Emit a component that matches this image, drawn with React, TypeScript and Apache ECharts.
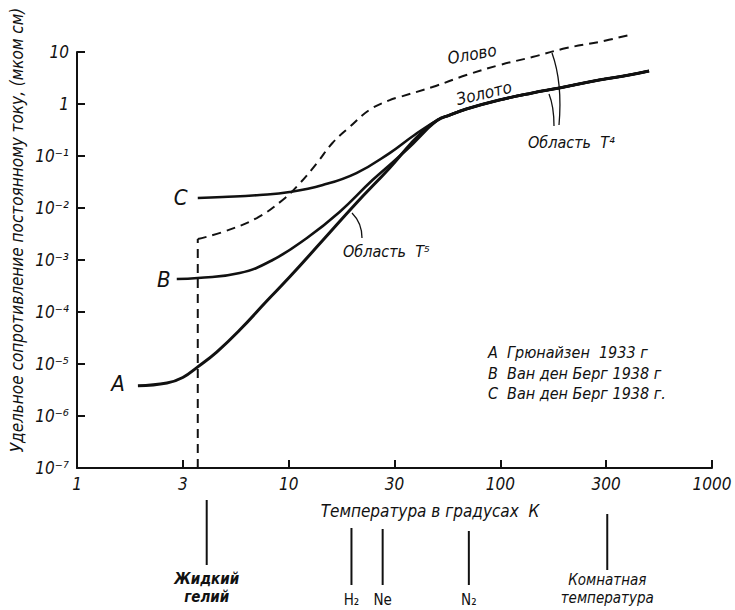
import React, { useEffect, useRef } from 'react';
import * as echarts from 'echarts';

// Tick labels
const xTickLabels = ['1', '3', '10', '30', '100', '300', '1000'];
const yTickLabels = ['10⁻⁷', '10⁻⁶', '10⁻⁵', '10⁻⁴', '10⁻³', '10⁻²', '10⁻¹', '1', '10'];

// Gold (common high-temperature part)
const goldTail: [number, number][] = [
  [50.5, 0.49], [57.5, 0.61], [69.1, 0.8], [98.9, 1.19], [141.6, 1.63],
  [190, 2.03], [293, 2.89], [406, 3.6], [504, 4.3],
];
// Sample A (Грюнайзен 1933)
const curveA: [number, number][] = [
  [1.94, 3.8e-6], [2.66, 4.3e-6], [3.16, 5.5e-6], [3.72, 8.8e-6], [4.57, 1.7e-5],
  [5.87, 4.5e-5], [7.88, 1.63e-4], [10.1, 4.7e-4], [14.5, 2.4e-3], [20.9, 1.25e-2],
  [30, 5.9e-2], [38, 0.178], [43.8, 0.316],
];
// Sample B (Ван ден Берг 1938)
const curveB: [number, number][] = [
  [2.96, 4.3e-4], [3.72, 4.5e-4], [5.87, 5.6e-4], [8.4, 1.0e-3], [12.2, 2.65e-3],
  [17.4, 8.4e-3], [24.9, 3.45e-2], [36, 0.13],
];
// Sample C (Ван ден Берг 1938)
const curveC: [number, number][] = [
  [3.72, 1.56e-2], [4.88, 1.63e-2], [7.3, 1.78e-2], [10.1, 2.03e-2], [14.5, 2.77e-2],
  [20.9, 4.7e-2], [30, 0.114], [39.3, 0.254],
];
// Tin (Олово): superconducting drop and normal-state curve
const tinDrop: [number, number][] = [[3.72, 1e-7], [3.72, 2.53e-3]];
const tinCurve: [number, number][] = [
  [3.72, 2.53e-3], [4.88, 3.45e-3], [7.07, 6.4e-3], [9.37, 1.43e-2], [11.3, 3.0e-2],
  [13.6, 7.3e-2], [16.1, 0.178], [19.4, 0.36], [24.1, 0.77], [30, 1.19], [33.4, 1.36],
  [47.8, 2.12], [69.1, 3.6], [98.9, 5.6], [141.6, 8.0], [205, 11.9], [293, 15.6], [406, 21.2],
];
// Reference temperatures under the axis
const markerNames = ['He', 'H₂', 'Ne', 'N₂', 'room'];
const markerTemps = [4.1, 19.8, 27.8, 71, 320];

const FONT = "'Liberation Sans Narrow', 'DejaVu Sans Condensed', 'Liberation Sans', sans-serif";
const INK = '#111';

export default function App() {
  const ref = useRef<HTMLDivElement>(null);
  useEffect(() => {
    if (!ref.current) return;
    const chart = echarts.init(ref.current, undefined, { renderer: 'svg' });
    const solid = (name: string, data: [number, number][], w: number) => ({
      name, type: 'line', data, smooth: 0.45, showSymbol: false, symbol: 'none',
      clip: false, lineStyle: { color: INK, width: w }, z: 3,
    });
    chart.setOption({
      animation: false,
      grid: { left: 77, right: 23, top: 52, bottom: 142, containLabel: false, outerBoundsMode: 'none' },
      xAxis: {
        type: 'log', logBase: Math.sqrt(10), min: 1, max: 1000,
        axisLine: { lineStyle: { color: INK, width: 2 } },
        axisTick: { inside: true, length: 8, lineStyle: { color: INK, width: 2 } },
        axisLabel: {
          margin: 7, color: INK, fontSize: 17, fontStyle: 'italic', fontFamily: FONT,
          formatter: (v: number) => xTickLabels[Math.round(Math.log10(v) * 2)] ?? '',
        },
        splitLine: { show: false }, minorTick: { show: false },
      },
      yAxis: {
        type: 'log', min: 1e-7, max: 10,
        axisLine: { lineStyle: { color: INK, width: 2 } },
        axisTick: { inside: true, length: 8, lineStyle: { color: INK, width: 2 } },
        axisLabel: {
          margin: 8, color: INK, fontSize: 17, fontStyle: 'italic', fontFamily: FONT,
          formatter: (v: number) => yTickLabels[Math.round(Math.log10(v)) + 7] ?? '',
        },
        splitLine: { show: false },
      },
      series: [
        solid('A', [...curveA, ...goldTail], 3),
        solid('B', [...curveB, ...goldTail], 2.6),
        solid('C', [...curveC, ...goldTail], 2.6),
        {
          name: 'Олово-drop', type: 'line', data: tinDrop, showSymbol: false, symbol: 'none', clip: false,
          lineStyle: { color: INK, width: 2, type: [9, 6] },
        },
        {
          name: 'Олово', type: 'line', data: tinCurve, smooth: 0.4, showSymbol: false,
          symbol: 'none', clip: false, lineStyle: { color: INK, width: 2, type: [9, 6] },
        },
      ],
    });

    const P = (p: [number, number]) => chart.convertToPixel({ gridIndex: 0 }, p) as number[];
    const txt = (text: string, x: number, y: number, size: number, opts: any = {}) => ({
      type: 'text', x, y, rotation: opts.rotation ?? 0, z: 10,
      style: {
        text, fill: INK, fontSize: size, fontStyle: opts.normal ? 'normal' : 'italic',
        fontWeight: opts.bold ? 'bold' : 'normal', fontFamily: FONT,
        align: opts.align ?? 'center', verticalAlign: 'middle',
      },
    });
    const bez = (pts: number[][]) => ({
      type: 'bezierCurve', z: 10,
      shape: { x1: pts[0][0], y1: pts[0][1], cpx1: pts[1][0], cpy1: pts[1][1], cpx2: pts[2][0], cpy2: pts[2][1], x2: pts[3][0], y2: pts[3][1] },
      style: { stroke: INK, lineWidth: 1.3, fill: 'none' },
    });
    const vline = (x: number, y1: number, y2: number) => ({
      type: 'line', z: 10, shape: { x1: x, y1, x2: x, y2 }, style: { stroke: INK, lineWidth: 2 },
    });

    const a0 = P(curveA[0]);
    const b0 = P(curveB[0]);
    const c0 = P(curveC[0]);
    const mx = markerTemps.map((t) => P([t, 1])[0]);

    const graphics: any[] = [
      txt('Удельное сопротивление постоянному току, (мком см)', 17, 230, 17, { rotation: Math.PI / 2 }),
      txt('Температура в градусах  К', 430, 511, 17),
      txt('A', a0[0] - 20, a0[1] - 2, 22),
      txt('B', b0[0] - 13, b0[1], 22),
      txt('C', c0[0] - 17, c0[1], 22),
      txt('Олово', 472, 54, 17, { rotation: 0.18 }),
      txt('Золото', 484, 93, 17, { rotation: 0.23 }),
      txt('Область  T⁴', 528, 142, 16, { align: 'left' }),
      txt('Область  T⁵', 343, 251, 16, { align: 'left' }),
      bez([[552, 53], [561, 78], [561, 102], [559, 125]]),
      bez([[549, 94], [553, 104], [554, 115], [554, 126]]),
      bez([[352, 213], [359, 220], [362, 229], [362, 238]]),
      txt('A', 488, 352, 16, { align: 'left' }),
      txt('Грюнайзен  1933 г', 507, 352, 16, { align: 'left' }),
      txt('B', 488, 373, 16, { align: 'left' }),
      txt('Ван ден Берг 1938 г', 507, 373, 16, { align: 'left' }),
      txt('C', 488, 393, 16, { align: 'left' }),
      txt('Ван ден Берг 1938 г.', 507, 393, 16, { align: 'left' }),
      // markers under the axis
      vline(mx[0], 500, 565),
      txt('Жидкий', mx[0], 579, 15, { bold: true }),
      txt('гелий', mx[0], 597, 15, { bold: true }),
      vline(mx[1], 528, 585),
      txt(markerNames[1], mx[1], 600, 15, { normal: true }),
      vline(mx[2], 529, 585),
      txt(markerNames[2], mx[2], 600, 15, { normal: true }),
      vline(mx[3], 531, 585),
      txt(markerNames[3], mx[3], 600, 15, { normal: true }),
      vline(mx[4], 514, 570),
      txt('Комнатная', mx[4], 580, 15),
      txt('температура', mx[4], 598, 15),
    ];
    chart.setOption({ graphic: graphics });
    return () => chart.dispose();
  }, []);
  return <div ref={ref} style={{ position: 'absolute', left: 0, top: 0, width: 735, height: 610, background: '#fff' }} />;
}
